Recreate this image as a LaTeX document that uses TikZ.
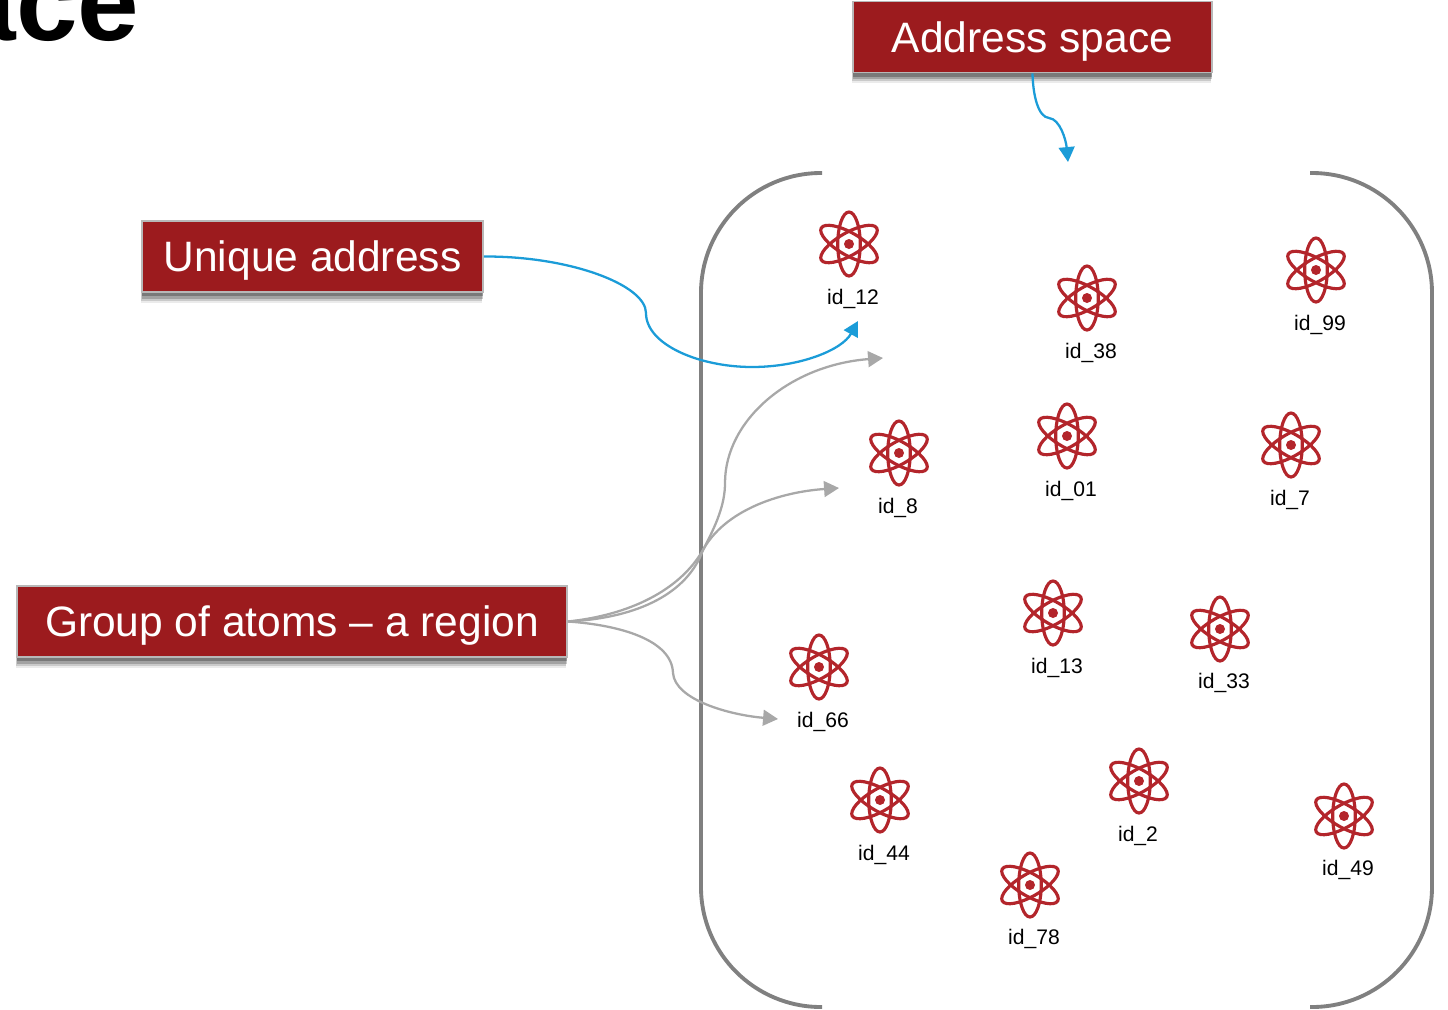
\documentclass[tikz,border=0pt]{standalone}
\usepackage{fontspec}
\setmainfont{Liberation Sans}
\usetikzlibrary{arrows.meta}
\definecolor{boxred}{HTML}{9C1B1E}
\definecolor{atomred}{HTML}{B3252B}
\definecolor{linkblue}{HTML}{1B9CD8}
\definecolor{linkgray}{HTML}{A8A8A8}
\definecolor{wallgray}{HTML}{808080}
\tikzset{
  atom/.pic={
    \draw[atomred,line width=1.8pt] (0,0) ellipse [x radius=0.225cm, y radius=0.64cm];
    \draw[atomred,line width=1.8pt,rotate=60] (0,0) ellipse [x radius=0.225cm, y radius=0.64cm];
    \draw[atomred,line width=1.8pt,rotate=-60] (0,0) ellipse [x radius=0.225cm, y radius=0.64cm];
    \fill[atomred] (0,0) circle (0.1cm);
  }
}

\begin{document}
\begin{tikzpicture}[x=0.02cm,y=-0.02cm,>={Triangle[length=8.5pt,width=9pt]},semithick]
  \tikzstyle{redbox}=[draw=black!28,line width=1pt,fill=boxred,text=white,
                      minimum height=1.42cm,inner sep=0pt,text height=17.5pt,text depth=0pt,
                      font=\fontsize{24.2}{29}\selectfont,
                      preaction={fill=black,fill opacity=0.08,transform canvas={xshift=-0.6pt,yshift=-6pt}},
                      preaction={fill=black,fill opacity=0.14,transform canvas={xshift=-0.4pt,yshift=-5pt}},
                      preaction={fill=black,fill opacity=0.2,transform canvas={xshift=-0.2pt,yshift=-3.8pt}},
                      preaction={fill=black,fill opacity=0.25,transform canvas={yshift=-2.5pt}}]
  \tikzstyle{idlabel}=[text=black,inner sep=0pt,font=\fontsize{12}{14}\selectfont]
  \tikzstyle{wall}=[draw=wallgray,line width=2.2pt,rounded corners=2.4cm]
  \tikzstyle{bluelink}=[->,draw=linkblue,line width=1.3pt]
  \tikzstyle{graylink}=[->,draw=linkgray,line width=1.3pt]

  \clip (0,0) rectangle (1448,1009);

  \node[anchor=base east,inner sep=0pt,font=\fontsize{63}{72}\selectfont\bfseries] (title) at (140,40) {ace};

  \node[redbox,minimum width=7.18cm] (addr)   at (1032.5,37)  {Address space};
  \node[redbox,minimum width=6.82cm] (unique) at (312.5,256.5) {Unique address};
  \node[redbox,minimum width=11cm]   (group)  at (292,621.5)  {Group of atoms -- a region};

  \draw[wall] (822,173) -- (701,173) -- (701,1007) -- (822,1007);
  \draw[wall] (1310,173) -- (1432,173) -- (1432,1007) -- (1310,1007);

  \pic (a12) at (849,244) {atom};
  \pic (a38) at (1087,298) {atom};
  \pic (a99) at (1316,270) {atom};
  \pic (a8)  at (899,453) {atom};
  \pic (a01) at (1067,436) {atom};
  \pic (a7)  at (1291,445) {atom};
  \pic (a13) at (1053,613) {atom};
  \pic (a33) at (1220,629) {atom};
  \pic (a66) at (819,667) {atom};
  \pic (a44) at (880,800) {atom};
  \pic (a2)  at (1139,781) {atom};
  \pic (a49) at (1344,816) {atom};
  \pic (a78) at (1030,885) {atom};

  \node[idlabel] (l12) at (853,299) {id\_12};
  \node[idlabel] (l38) at (1091,353) {id\_38};
  \node[idlabel] (l99) at (1320,325) {id\_99};
  \node[idlabel] (l8)  at (898,508) {id\_8};
  \node[idlabel] (l01) at (1071,491) {id\_01};
  \node[idlabel] (l7)  at (1290,500) {id\_7};
  \node[idlabel] (l13) at (1057,668) {id\_13};
  \node[idlabel] (l33) at (1224,683) {id\_33};
  \node[idlabel] (l66) at (823,722) {id\_66};
  \node[idlabel] (l44) at (884,855) {id\_44};
  \node[idlabel] (l2)  at (1138,836) {id\_2};
  \node[idlabel] (l49) at (1348,870) {id\_49};
  \node[idlabel] (l78) at (1034,939) {id\_78};

  \coordinate (spacetip) at (1068,162);
  \coordinate (atomtip)  at (858,321);
  \coordinate (toptip)   at (883,358);
  \coordinate (midtip)   at (839,488);
  \coordinate (lowtip)   at (778,719);

  \draw[bluelink] (addr.south) .. controls (1033,95) and (1038,117) .. (1049,118)
                  .. controls (1060,119) and (1066,140) .. (spacetip);
  \draw[bluelink] (unique.east) .. controls (570,256) and (646,285) .. (646,313)
                  .. controls (646,345) and (700,367) .. (752,367)
                  .. controls (800,367) and (842,350) .. (atomtip);
  \draw[graylink] (group.east) .. controls (640,618) and (688,592) .. (703,550)
                  .. controls (716,525) and (725,505) .. (725,483)
                  .. controls (725,420) and (790,365) .. (toptip);
  \draw[graylink] (group.east) .. controls (630,615) and (680,590) .. (703,550)
                  .. controls (725,510) and (780,492) .. (midtip);
  \draw[graylink] (group.east) .. controls (620,625) and (672,640) .. (673,673)
                  .. controls (675,700) and (730,715) .. (lowtip);
\end{tikzpicture}
\end{document}
